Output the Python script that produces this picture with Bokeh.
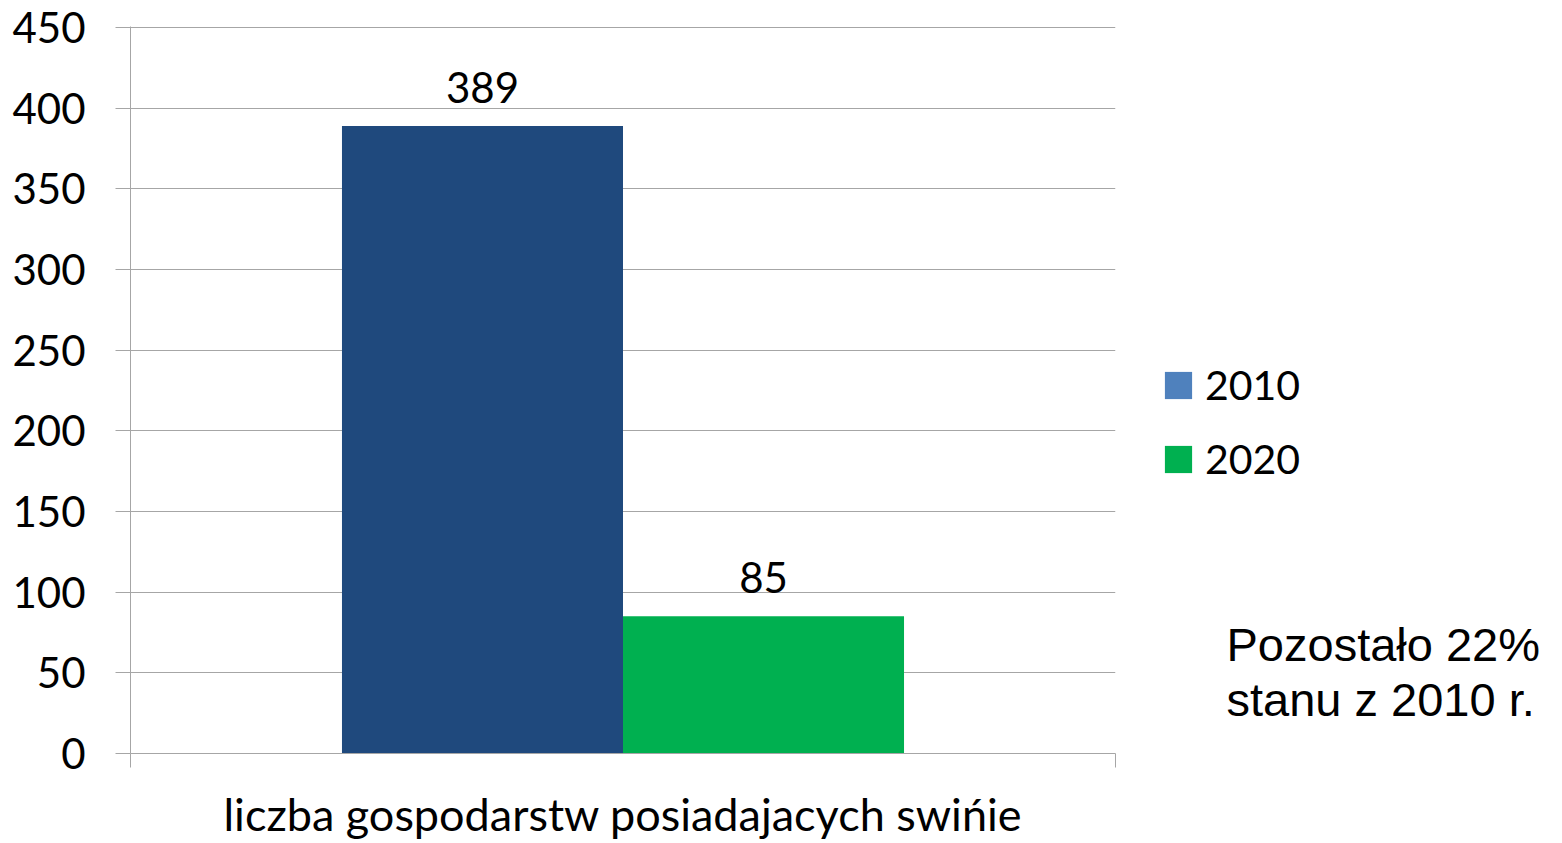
from bokeh.plotting import figure
from bokeh.layouts import row
from bokeh.models import (Range1d, FixedTicker, ColumnDataSource, LabelSet, Label,
                          Legend, LegendItem, CustomJSTickFormatter)
from bokeh.core.properties import value
from bokeh.embed import file_html
from bokeh.resources import INLINE

# ---- data ----
categories = ["liczba gospodarstw posiadajacych swińie"]
years = ["2010", "2020"]
values = [389, 85]
bar_colors = ["#1F497D", "#00B050"]
legend_colors = ["#4F81BD", "#00B050"]
y_ticks = [0, 50, 100, 150, 200, 250, 300, 350, 400, 450]
note_lines = ["Pozostało 22%", "stanu z 2010 r."]

FONT = "Lato"
GRID = "#A6A6A6"
PAD = 0.7525  # side padding of the category, in bar widths

xpos = [i + 0.5 for i in range(len(years))]
x_lo, x_hi = -PAD, len(years) + PAD
src = ColumnDataSource(dict(x=xpos, top=values, color=bar_colors,
                            lbl=[str(v) for v in values]))

W1, H = 1125, 843
p = figure(width=W1, height=H, output_backend="svg", toolbar_location=None,
           x_range=Range1d(x_lo, x_hi), y_range=Range1d(0, 450.6),
           min_border_left=130, min_border_right=10, min_border_top=26, min_border_bottom=86)
p.outline_line_color = None
p.background_fill_color = "white"
p.border_fill_color = "white"

p.vbar(x="x", top="top", width=1.0, source=src, fill_color="color", line_color=None)

# y axis
ya = p.yaxis[0]
ya.ticker = FixedTicker(ticks=y_ticks)
ya.axis_line_color = GRID
ya.major_tick_line_color = GRID
ya.major_tick_in = 0
ya.major_tick_out = 15
ya.minor_tick_line_color = None
ya.major_label_text_font = FONT
ya.major_label_text_font_size = "42px"
ya.major_label_text_color = "black"
ya.major_label_standoff = 30

p.xgrid.visible = False
p.ygrid.ticker = FixedTicker(ticks=y_ticks)
p.ygrid.grid_line_color = GRID
p.ygrid.grid_line_width = 1

# x axis: edge ticks and category label
xa = p.xaxis[0]
xa.ticker = FixedTicker(ticks=[x_lo, x_hi])
xa.formatter = CustomJSTickFormatter(code="return ' '")
xa.axis_line_color = GRID
xa.major_tick_line_color = GRID
xa.major_tick_in = 0
xa.major_tick_out = 14
xa.minor_tick_line_color = None
xa.major_label_text_font_size = "1px"
xa.major_label_standoff = 0
xa.axis_label = categories[0]
xa.axis_label_text_font = FONT
xa.axis_label_text_font_size = "45px"
xa.axis_label_text_font_style = "normal"
xa.axis_label_text_color = "black"
xa.axis_label_standoff = 15

# value labels
p.add_layout(LabelSet(x="x", y="top", text="lbl", source=src, y_offset=23,
                      text_align="center", text_baseline="alphabetic",
                      text_font=value(FONT), text_font_size=value("42px"),
                      text_color="black"))

# ---- side panel: legend and note ----
W2 = 1560 - W1
s = figure(width=W2, height=H, output_backend="svg", toolbar_location=None,
           x_range=Range1d(0, W2), y_range=Range1d(0, H),
           x_axis_location=None, y_axis_location=None,
           min_border_left=0, min_border_right=0, min_border_top=0, min_border_bottom=0)
s.outline_line_color = None
s.xgrid.visible = False
s.ygrid.visible = False
s.border_fill_color = "white"
s.background_fill_color = "white"

nan = float("nan")
items = []
for yr, c in zip(years, legend_colors):
    r = s.rect(x=[nan], y=[nan], width=1, height=1, fill_color=c, line_color=None)
    items.append(LegendItem(label=yr, renderers=[r]))
leg = Legend(items=items, location=(1161 - W1, 270), glyph_width=34, glyph_height=34,
             label_text_font=FONT, label_text_font_size="41px", label_standoff=10,
             spacing=25, padding=0, margin=0, border_line_color=None,
             background_fill_alpha=0, label_text_color="black")
s.add_layout(leg, "center")

for i, t in enumerate(note_lines):
    s.add_layout(Label(x=1226 - W1, y=109 - 55 * i, x_units="screen", y_units="screen",
                       text=t, text_font="Liberation Sans", text_font_size="47px",
                       text_baseline="alphabetic", text_color="black"))

layout = row(p, s, spacing=0)
open("out.html", "w").write(file_html(layout, INLINE))
